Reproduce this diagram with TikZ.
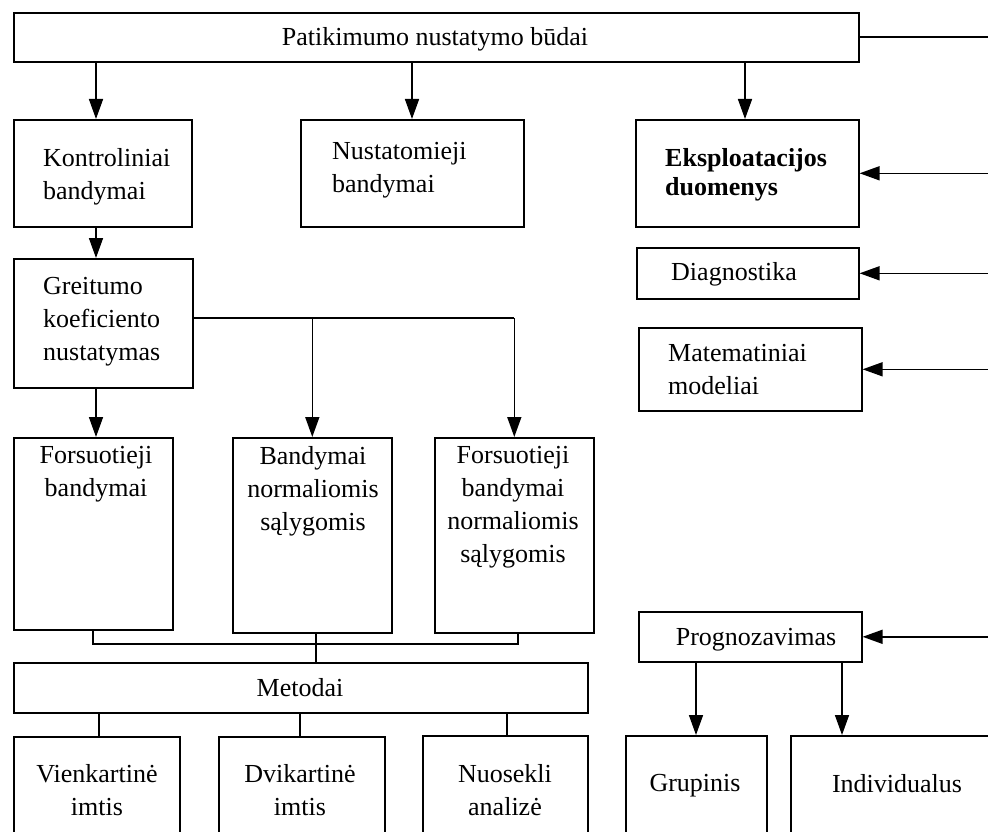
\documentclass[tikz,border=0pt]{standalone}
\usepackage{fontspec}
\setmainfont{Liberation Serif}
\usetikzlibrary{arrows.meta}
\begin{document}
\begin{tikzpicture}[x=1pt,y=-1pt,
  box/.style={draw, line width=1.6pt, rectangle, inner sep=0pt, anchor=north west},
  lbl/.style={font=\fontsize{26}{33}\selectfont, inner sep=0pt, align=center},
  lblL/.style={lbl, align=left, anchor=west},
  link/.style={line width=1.6pt},
  arr/.style={line width=1.6pt, -{Triangle[length=20pt,width=14pt]}}]
\useasboundingbox (0,0) rectangle (988,832);
\clip (0,0) rectangle (988,832);

% column positions used by the connectors
\coordinate (edge) at (988,0);
\coordinate (xa) at (96,0);
\coordinate (xb) at (412,0);
\coordinate (xc) at (745,0);
\coordinate (gy) at (0,318);
\coordinate (by) at (0,644);
\coordinate (bl) at (93,0);
\coordinate (bm) at (316,0);
\coordinate (br) at (518,0);
\coordinate (m1) at (99,0);
\coordinate (m2) at (300,0);
\coordinate (m3) at (507,0);
\coordinate (p1) at (696,0);
\coordinate (p2) at (842,0);

% boxes
\node[box, minimum width=845, minimum height=49] (top) at (13,12) {};
\node[box, minimum width=178, minimum height=107] (kontr) at (13,119) {};
\node[box, minimum width=223, minimum height=107] (nust) at (300,119) {};
\node[box, minimum width=223, minimum height=107] (eksp) at (635,119) {};
\node[box, minimum width=222, minimum height=51] (diag) at (636,247) {};
\node[box, minimum width=223, minimum height=83] (mat) at (638,327) {};
\node[box, minimum width=179, minimum height=129] (greit) at (13,258) {};
\node[box, minimum width=159, minimum height=192] (fors1) at (13,437) {};
\node[box, minimum width=159, minimum height=195] (band) at (232,437) {};
\node[box, minimum width=159, minimum height=195] (fors2) at (434,437) {};
\node[box, minimum width=574, minimum height=50] (met) at (13,662) {};
\node[box, minimum width=166, minimum height=130] (vien) at (13,736) {};
\node[box, minimum width=166, minimum height=130] (dvik) at (218,736) {};
\node[box, minimum width=165, minimum height=130] (nuos) at (422,735) {};
\node[box, minimum width=223, minimum height=50] (prog) at (638,611) {};
\node[box, minimum width=141, minimum height=130] (grup) at (625,735) {};
\node[box, minimum width=230, minimum height=130] (indiv) at (790,735) {};

% labels
\node[lbl] (top-t) at (435,39) {Patikimumo nustatymo būdai};
\node[lblL] (kontr-t) at (43,177) {Kontroliniai\\bandymai};
\node[lblL] (nust-t) at (332,170) {Nustatomieji\\bandymai};
\node[lblL, font=\fontsize{26}{29}\selectfont\bfseries] (eksp-t) at (665,175) {Eksploatacijos\\duomenys};
\node[lblL] (diag-t) at (671,274) {Diagnostika};
\node[lblL] (mat-t) at (668,370) {Matematiniai\\modeliai};
\node[lblL] (greit-t) at (43,322) {Greitumo\\koeficiento\\nustatymas};
\node[lbl] (fors1-t) at (96,474) {Forsuotieji\\bandymai};
\node[lbl] (band-t) at (313,491) {Bandymai\\normaliomis\\sąlygomis};
\node[lbl] (fors2-t) at (513,507) {Forsuotieji\\bandymai\\normaliomis\\sąlygomis};
\node[lbl] (met-t) at (300,688) {Metodai};
\node[lbl] (vien-t) at (97,790) {Vienkartinė\\imtis};
\node[lbl] (dvik-t) at (300,790) {Dvikartinė\\imtis};
\node[lbl] (nuos-t) at (505,790) {Nuosekli\\analizė};
\node[lbl] (prog-t) at (756,640) {Prognozavimas};
\node[lbl] (grup-t) at (695,786) {Grupinis};
\node[lbl] (indiv-t) at (897,784) {Individualus};

% connectors from the top box
\draw[arr] (top.south -| xa) -- (kontr.north -| xa);
\draw[arr] (top.south -| xb) -- (nust.north -| xb);
\draw[arr] (top.south -| xc) -- (eksp.north -| xc);
\draw[link] (top.east) -- (top.east -| edge);

% inputs from the right edge
\draw[arr] (eksp.east -| edge) -- (eksp.east);
\draw[arr] (diag.east -| edge) -- (diag.east);
\draw[arr] (mat.east -| edge) -- (mat.east);
\draw[arr] (prog.east -| edge) -- (prog.east);

% left column
\draw[arr] (kontr.south -| xa) -- (greit.north -| xa);
\draw[arr] (greit.south -| xa) -- (fors1.north -| xa);
\draw[link] (greit.east |- gy) -- (fors2.north |- gy);
\draw[arr] (band.north |- gy) -- (band.north);
\draw[arr] (fors2.north |- gy) -- (fors2.north);

% collecting bus to the methods
\draw[link] (fors1.south -| bl) -- (bl |- by) -- (br |- by) -- (fors2.south -| br);
\draw[link] (band.south -| bm) -- (met.north -| bm);
\draw[link] (met.south -| m1) -- (vien.north -| m1);
\draw[link] (met.south -| m2) -- (dvik.north -| m2);
\draw[link] (met.south -| m3) -- (nuos.north -| m3);

% forecasting branches
\draw[arr] (prog.south -| p1) -- (grup.north -| p1);
\draw[arr] (prog.south -| p2) -- (indiv.north -| p2);
\end{tikzpicture}
\end{document}
